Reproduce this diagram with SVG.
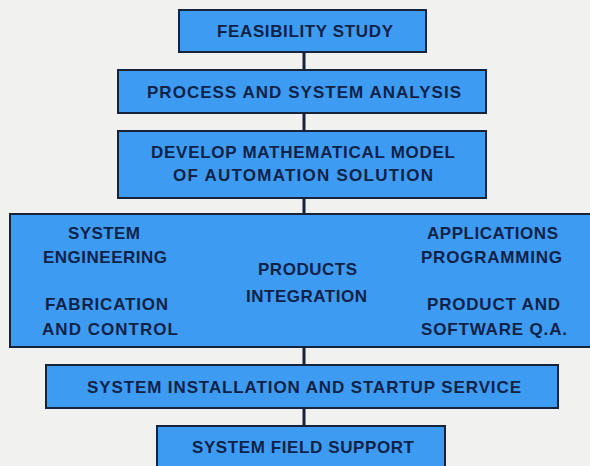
<svg xmlns="http://www.w3.org/2000/svg" width="590" height="466" viewBox="0 0 590 466">
  <style>
    .box { fill: #3d9cf2; stroke: #16233a; stroke-width: 2; }
    .lbl { font-family: "Liberation Sans", Arial, Helvetica, sans-serif; font-weight: bold; font-size: 17px; fill: #102247; }
    .link { stroke: #16233a; stroke-width: 3; fill: none; }
  </style>
  <rect x="0" y="0" width="590" height="466" fill="#f1f2f0"/>

  <g id="connectors">
    <line class="link" x1="304" y1="52" x2="304" y2="70"/>
    <line class="link" x1="304" y1="113" x2="304" y2="131"/>
    <line class="link" x1="304" y1="198" x2="304" y2="214"/>
    <line class="link" x1="304" y1="347" x2="304" y2="365"/>
    <line class="link" x1="304" y1="408" x2="304" y2="426"/>
  </g>

  <g id="feasibility-study">
    <rect class="box" x="179" y="10" width="247" height="42"/>
    <text class="lbl" x="217" y="37" textLength="176" lengthAdjust="spacing">FEASIBILITY STUDY</text>
  </g>

  <g id="process-system-analysis">
    <rect class="box" x="118" y="70" width="368" height="43"/>
    <text class="lbl" x="147" y="98" textLength="314" lengthAdjust="spacing">PROCESS AND SYSTEM ANALYSIS</text>
  </g>

  <g id="mathematical-model">
    <rect class="box" x="118" y="131" width="368" height="67"/>
    <text class="lbl" x="151" y="158" textLength="304" lengthAdjust="spacing">DEVELOP MATHEMATICAL MODEL</text>
    <text class="lbl" x="173" y="181" textLength="260" lengthAdjust="spacing">OF AUTOMATION SOLUTION</text>
  </g>

  <g id="integration-block">
    <rect class="box" x="10" y="214" width="600" height="133"/>
    <text class="lbl" x="68" y="239" textLength="72" lengthAdjust="spacing">SYSTEM</text>
    <text class="lbl" x="43" y="263" textLength="124" lengthAdjust="spacing">ENGINEERING</text>
    <text class="lbl" x="45" y="310" textLength="123" lengthAdjust="spacing">FABRICATION</text>
    <text class="lbl" x="42" y="335" textLength="136" lengthAdjust="spacing">AND CONTROL</text>
    <text class="lbl" x="258" y="275" textLength="99" lengthAdjust="spacing">PRODUCTS</text>
    <text class="lbl" x="246" y="302" textLength="121" lengthAdjust="spacing">INTEGRATION</text>
    <text class="lbl" x="427" y="239" textLength="131" lengthAdjust="spacing">APPLICATIONS</text>
    <text class="lbl" x="421" y="263" textLength="141" lengthAdjust="spacing">PROGRAMMING</text>
    <text class="lbl" x="427" y="310" textLength="133" lengthAdjust="spacing">PRODUCT AND</text>
    <text class="lbl" x="421" y="335" textLength="146" lengthAdjust="spacing">SOFTWARE Q.A.</text>
  </g>

  <g id="installation-startup">
    <rect class="box" x="46" y="365" width="512" height="43"/>
    <text class="lbl" x="87" y="393" textLength="434" lengthAdjust="spacing">SYSTEM INSTALLATION AND STARTUP SERVICE</text>
  </g>

  <g id="field-support">
    <rect class="box" x="157" y="426" width="288" height="50"/>
    <text class="lbl" x="192" y="453" textLength="222" lengthAdjust="spacing">SYSTEM FIELD SUPPORT</text>
  </g>
</svg>
